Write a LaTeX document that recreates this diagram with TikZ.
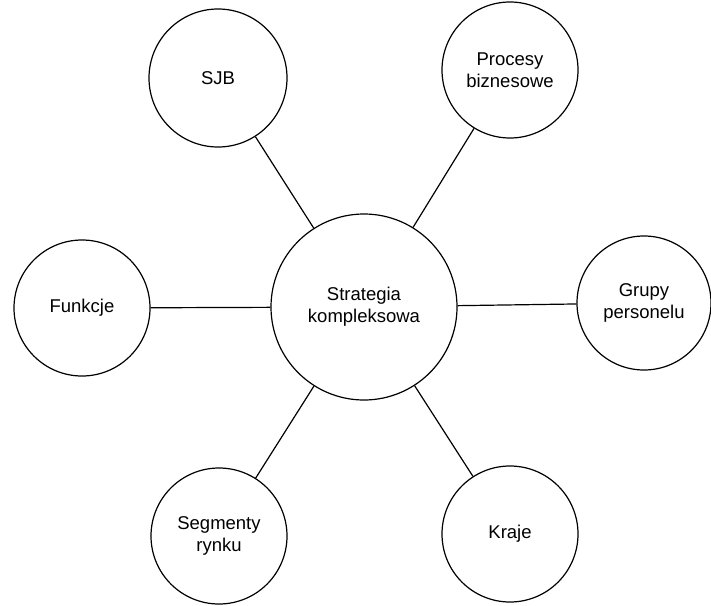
\documentclass[tikz,border=0pt]{standalone}
\usepackage{fontspec}
\setmainfont{Liberation Sans}
\begin{document}
\begin{tikzpicture}[x=1pt,y=-1pt,
  topic/.style={circle,draw,line width=1.2pt,inner sep=0pt,align=center,
    font=\fontsize{18.5}{22}\selectfont},
  link/.style={line width=1.2pt}]
\useasboundingbox (0,0) rectangle (711,605);
\node[topic,minimum size=186] (core) at (364,307) {Strategia\\kompleksowa};
\node[topic,minimum size=138] (sjb) at (218,78) {SJB};
\node[topic,minimum size=136] (proc) at (510,70) {Procesy\\biznesowe};
\node[topic,minimum size=136] (funk) at (82,308) {Funkcje};
\node[topic,minimum size=134] (grup) at (644,303) {Grupy\\personelu};
\node[topic,minimum size=136] (seg) at (219,536) {Segmenty\\rynku};
\node[topic,minimum size=136] (kraj) at (510,534) {Kraje};
\draw[link] (core) -- (sjb);
\draw[link] (core) -- (proc);
\draw[link] (core) -- (funk);
\draw[link] (core) -- (grup);
\draw[link] (core) -- (seg);
\draw[link] (core) -- (kraj);
\end{tikzpicture}
\end{document}
